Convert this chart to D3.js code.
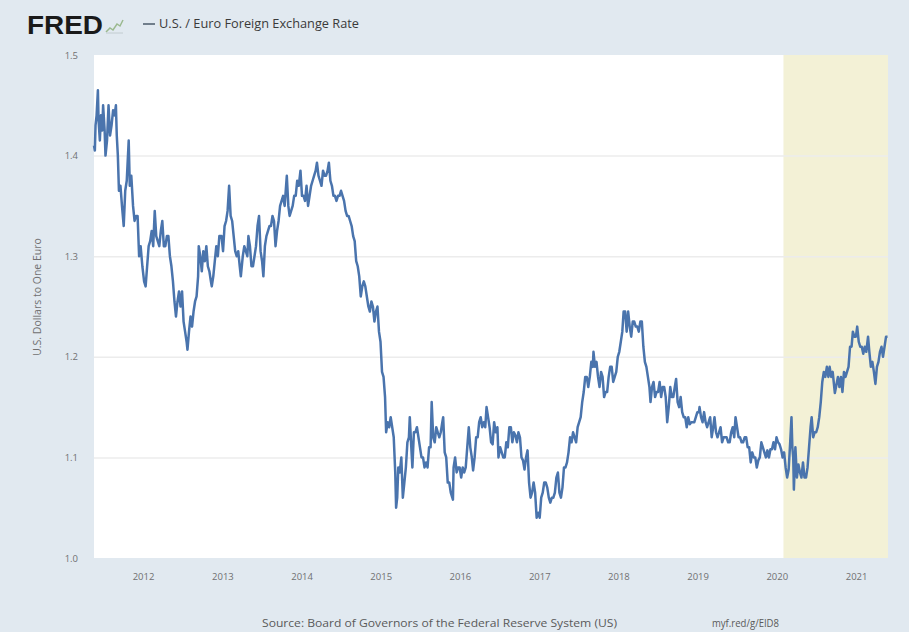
<!DOCTYPE html>
<html><head><meta charset="utf-8">
<script src="https://cdn.jsdelivr.net/npm/d3@7"></script>
<style>body{margin:0;background:#e1e9f0;}svg{display:block}</style>
</head><body><svg id="c" width="909" height="632"></svg>
<script>
const seriesTitle = "U.S. / Euro Foreign Exchange Rate";
const yTitle = "U.S. Dollars to One Euro";
const sourceText = "Source: Board of Governors of the Federal Reserve System (US)";
const linkText = "myf.red/g/EID8";
const yTicks = [1.0, 1.1, 1.2, 1.3, 1.4, 1.5];
const xTickYears = [2012, 2013, 2014, 2015, 2016, 2017, 2018, 2019, 2020, 2021];
const dateRange = ["2011-05-20", "2021-05-28"];
const recession = ["2020-02-01", "2021-05-28"];

const rates2011 = [["2011-05-20",1.410],["2011-05-24",1.405],["2011-05-27",1.430],["2011-06-01",1.440],["2011-06-07",1.465],["2011-06-10",1.435],["2011-06-16",1.415],["2011-06-21",1.440],["2011-06-27",1.425],["2011-07-01",1.450],["2011-07-08",1.425],["2011-07-12",1.400],["2011-07-19",1.415],["2011-07-26",1.450],["2011-08-02",1.420],["2011-08-09",1.430],["2011-08-16",1.445],["2011-08-23",1.440],["2011-08-29",1.450],["2011-09-02",1.420],["2011-09-07",1.400],["2011-09-12",1.365],["2011-09-19",1.370],["2011-09-26",1.350],["2011-10-04",1.330],["2011-10-11",1.365],["2011-10-18",1.375],["2011-10-27",1.415],["2011-11-01",1.370],["2011-11-08",1.380],["2011-11-16",1.350],["2011-11-23",1.335],["2011-11-30",1.340],["2011-12-07",1.340],["2011-12-14",1.300],["2011-12-21",1.310],["2011-12-29",1.290]];
const rates2012 = [["2012-01-06",1.275],["2012-01-13",1.270],["2012-01-20",1.290],["2012-01-27",1.310],["2012-02-03",1.315],["2012-02-10",1.325],["2012-02-17",1.310],["2012-02-24",1.345],["2012-03-02",1.320],["2012-03-09",1.315],["2012-03-16",1.310],["2012-03-23",1.325],["2012-03-30",1.335],["2012-04-06",1.310],["2012-04-13",1.310],["2012-04-20",1.320],["2012-04-27",1.320],["2012-05-04",1.300],["2012-05-11",1.290],["2012-05-18",1.275],["2012-05-25",1.255],["2012-06-01",1.240],["2012-06-08",1.255],["2012-06-15",1.265],["2012-06-22",1.250],["2012-06-29",1.265],["2012-07-06",1.235],["2012-07-13",1.225],["2012-07-20",1.215],["2012-07-24",1.207],["2012-07-31",1.225],["2012-08-07",1.240],["2012-08-14",1.230],["2012-08-21",1.245],["2012-08-28",1.255],["2012-09-04",1.260],["2012-09-11",1.280],["2012-09-14",1.310],["2012-09-21",1.300],["2012-09-28",1.285],["2012-10-05",1.305],["2012-10-12",1.295],["2012-10-19",1.310],["2012-10-26",1.290],["2012-11-02",1.285],["2012-11-09",1.275],["2012-11-13",1.270],["2012-11-20",1.280],["2012-11-27",1.295],["2012-12-04",1.310],["2012-12-11",1.300],["2012-12-18",1.320],["2012-12-28",1.320]];
const rates2013 = [["2013-01-04",1.305],["2013-01-11",1.330],["2013-01-18",1.335],["2013-01-25",1.345],["2013-02-01",1.370],["2013-02-08",1.340],["2013-02-15",1.335],["2013-02-22",1.320],["2013-03-01",1.305],["2013-03-08",1.300],["2013-03-15",1.305],["2013-03-22",1.290],["2013-03-27",1.280],["2013-04-05",1.300],["2013-04-12",1.310],["2013-04-19",1.305],["2013-04-26",1.300],["2013-05-01",1.320],["2013-05-08",1.310],["2013-05-15",1.290],["2013-05-22",1.290],["2013-05-29",1.300],["2013-06-05",1.310],["2013-06-12",1.330],["2013-06-19",1.340],["2013-06-26",1.305],["2013-07-03",1.295],["2013-07-09",1.280],["2013-07-16",1.310],["2013-07-23",1.320],["2013-07-30",1.325],["2013-08-06",1.330],["2013-08-13",1.330],["2013-08-20",1.340],["2013-08-27",1.335],["2013-09-03",1.310],["2013-09-10",1.325],["2013-09-17",1.335],["2013-09-24",1.350],["2013-10-01",1.355],["2013-10-08",1.360],["2013-10-15",1.350],["2013-10-25",1.380],["2013-11-01",1.350],["2013-11-07",1.340],["2013-11-14",1.345],["2013-11-21",1.350],["2013-11-28",1.360],["2013-12-05",1.360],["2013-12-12",1.375],["2013-12-19",1.370],["2013-12-27",1.385]];
const rates2014 = [["2014-01-03",1.360],["2014-01-10",1.360],["2014-01-17",1.355],["2014-01-24",1.370],["2014-01-31",1.350],["2014-02-07",1.360],["2014-02-14",1.370],["2014-02-21",1.375],["2014-02-28",1.380],["2014-03-07",1.385],["2014-03-13",1.393],["2014-03-20",1.380],["2014-03-27",1.375],["2014-04-03",1.370],["2014-04-10",1.385],["2014-04-17",1.380],["2014-04-24",1.380],["2014-05-01",1.385],["2014-05-07",1.393],["2014-05-14",1.375],["2014-05-21",1.370],["2014-05-28",1.360],["2014-06-04",1.360],["2014-06-11",1.355],["2014-06-18",1.360],["2014-06-25",1.360],["2014-07-02",1.365],["2014-07-09",1.360],["2014-07-16",1.355],["2014-07-23",1.345],["2014-07-30",1.340],["2014-08-06",1.340],["2014-08-13",1.335],["2014-08-20",1.330],["2014-08-27",1.320],["2014-09-03",1.315],["2014-09-10",1.295],["2014-09-17",1.290],["2014-09-24",1.280],["2014-10-01",1.260],["2014-10-08",1.270],["2014-10-15",1.275],["2014-10-22",1.270],["2014-10-29",1.260],["2014-11-05",1.250],["2014-11-12",1.245],["2014-11-19",1.255],["2014-11-26",1.250],["2014-12-03",1.235],["2014-12-10",1.245],["2014-12-17",1.250],["2014-12-24",1.225],["2014-12-31",1.215]];
const rates2015 = [["2015-01-07",1.185],["2015-01-14",1.180],["2015-01-21",1.160],["2015-01-26",1.125],["2015-02-02",1.135],["2015-02-09",1.130],["2015-02-16",1.140],["2015-02-23",1.130],["2015-03-02",1.120],["2015-03-09",1.085],["2015-03-13",1.050],["2015-03-18",1.060],["2015-03-23",1.090],["2015-03-30",1.085],["2015-04-06",1.100],["2015-04-13",1.060],["2015-04-20",1.075],["2015-04-27",1.090],["2015-05-04",1.115],["2015-05-11",1.120],["2015-05-15",1.140],["2015-05-22",1.110],["2015-05-27",1.090],["2015-06-03",1.125],["2015-06-10",1.125],["2015-06-17",1.130],["2015-06-24",1.120],["2015-07-01",1.110],["2015-07-08",1.100],["2015-07-15",1.100],["2015-07-22",1.090],["2015-07-29",1.095],["2015-08-05",1.090],["2015-08-12",1.110],["2015-08-19",1.110],["2015-08-24",1.155],["2015-08-31",1.120],["2015-09-07",1.115],["2015-09-14",1.130],["2015-09-21",1.125],["2015-09-28",1.120],["2015-10-05",1.125],["2015-10-12",1.135],["2015-10-16",1.140],["2015-10-23",1.105],["2015-10-30",1.100],["2015-11-06",1.075],["2015-11-13",1.075],["2015-11-20",1.065],["2015-11-30",1.058],["2015-12-03",1.090],["2015-12-10",1.100],["2015-12-17",1.085],["2015-12-24",1.090],["2015-12-31",1.090]];
const rates2016 = [["2016-01-07",1.080],["2016-01-14",1.090],["2016-01-21",1.085],["2016-01-28",1.090],["2016-02-04",1.110],["2016-02-11",1.130],["2016-02-18",1.110],["2016-02-25",1.100],["2016-03-02",1.087],["2016-03-09",1.100],["2016-03-16",1.120],["2016-03-23",1.120],["2016-03-30",1.135],["2016-04-06",1.140],["2016-04-13",1.130],["2016-04-20",1.135],["2016-04-27",1.130],["2016-05-03",1.150],["2016-05-10",1.140],["2016-05-17",1.130],["2016-05-24",1.115],["2016-05-31",1.113],["2016-06-07",1.135],["2016-06-14",1.125],["2016-06-22",1.130],["2016-06-27",1.100],["2016-07-05",1.110],["2016-07-12",1.105],["2016-07-19",1.100],["2016-07-26",1.100],["2016-08-02",1.115],["2016-08-09",1.110],["2016-08-16",1.130],["2016-08-23",1.130],["2016-08-30",1.115],["2016-09-06",1.125],["2016-09-13",1.122],["2016-09-20",1.115],["2016-09-27",1.125],["2016-10-04",1.120],["2016-10-11",1.100],["2016-10-18",1.097],["2016-10-25",1.088],["2016-11-01",1.100],["2016-11-08",1.107],["2016-11-15",1.075],["2016-11-22",1.060],["2016-11-29",1.065],["2016-12-06",1.075],["2016-12-13",1.065],["2016-12-20",1.040],["2016-12-27",1.045]];
const rates2017 = [["2017-01-03",1.040],["2017-01-10",1.060],["2017-01-17",1.065],["2017-01-24",1.075],["2017-01-31",1.075],["2017-02-07",1.070],["2017-02-14",1.060],["2017-02-21",1.055],["2017-02-28",1.060],["2017-03-07",1.060],["2017-03-14",1.065],["2017-03-21",1.080],["2017-03-28",1.085],["2017-04-04",1.065],["2017-04-11",1.060],["2017-04-18",1.070],["2017-04-25",1.090],["2017-05-02",1.090],["2017-05-09",1.095],["2017-05-16",1.105],["2017-05-23",1.120],["2017-05-30",1.115],["2017-06-06",1.125],["2017-06-13",1.120],["2017-06-20",1.115],["2017-06-27",1.130],["2017-07-04",1.135],["2017-07-11",1.140],["2017-07-18",1.155],["2017-07-25",1.165],["2017-08-01",1.180],["2017-08-08",1.180],["2017-08-15",1.170],["2017-08-22",1.180],["2017-08-29",1.195],["2017-09-05",1.190],["2017-09-08",1.205],["2017-09-15",1.190],["2017-09-22",1.195],["2017-09-29",1.180],["2017-10-06",1.170],["2017-10-13",1.185],["2017-10-20",1.180],["2017-10-27",1.160],["2017-11-03",1.165],["2017-11-10",1.165],["2017-11-17",1.180],["2017-11-24",1.190],["2017-12-01",1.190],["2017-12-08",1.175],["2017-12-15",1.180],["2017-12-22",1.185],["2017-12-29",1.200]];
const rates2018 = [["2018-01-05",1.205],["2018-01-12",1.215],["2018-01-19",1.225],["2018-01-25",1.245],["2018-02-01",1.245],["2018-02-08",1.225],["2018-02-15",1.245],["2018-02-22",1.230],["2018-03-01",1.220],["2018-03-08",1.235],["2018-03-15",1.235],["2018-03-22",1.230],["2018-03-29",1.230],["2018-04-05",1.225],["2018-04-12",1.235],["2018-04-19",1.235],["2018-04-26",1.210],["2018-05-03",1.195],["2018-05-10",1.190],["2018-05-17",1.180],["2018-05-24",1.170],["2018-05-29",1.155],["2018-06-05",1.170],["2018-06-12",1.175],["2018-06-19",1.160],["2018-06-26",1.165],["2018-07-03",1.165],["2018-07-10",1.175],["2018-07-17",1.160],["2018-07-24",1.170],["2018-07-31",1.170],["2018-08-07",1.160],["2018-08-14",1.135],["2018-08-21",1.150],["2018-08-28",1.170],["2018-09-04",1.160],["2018-09-11",1.160],["2018-09-18",1.170],["2018-09-24",1.178],["2018-10-01",1.155],["2018-10-08",1.150],["2018-10-15",1.160],["2018-10-22",1.145],["2018-10-29",1.140],["2018-11-05",1.140],["2018-11-12",1.130],["2018-11-19",1.140],["2018-11-26",1.133],["2018-12-03",1.135],["2018-12-10",1.135],["2018-12-17",1.135],["2018-12-24",1.140],["2018-12-31",1.145]];
const rates2019 = [["2019-01-07",1.145],["2019-01-10",1.150],["2019-01-17",1.140],["2019-01-24",1.135],["2019-01-31",1.145],["2019-02-07",1.135],["2019-02-14",1.130],["2019-02-21",1.135],["2019-02-28",1.140],["2019-03-07",1.120],["2019-03-14",1.130],["2019-03-20",1.140],["2019-03-27",1.125],["2019-04-03",1.120],["2019-04-10",1.125],["2019-04-17",1.130],["2019-04-24",1.115],["2019-05-01",1.120],["2019-05-08",1.120],["2019-05-15",1.120],["2019-05-22",1.115],["2019-05-29",1.115],["2019-06-05",1.125],["2019-06-12",1.130],["2019-06-19",1.120],["2019-06-25",1.140],["2019-07-02",1.130],["2019-07-09",1.120],["2019-07-16",1.120],["2019-07-23",1.115],["2019-07-30",1.115],["2019-08-06",1.120],["2019-08-13",1.120],["2019-08-20",1.110],["2019-08-27",1.110],["2019-09-03",1.095],["2019-09-10",1.105],["2019-09-17",1.100],["2019-09-24",1.100],["2019-10-01",1.090],["2019-10-08",1.097],["2019-10-15",1.100],["2019-10-22",1.115],["2019-10-29",1.110],["2019-11-05",1.105],["2019-11-12",1.100],["2019-11-19",1.107],["2019-11-26",1.100],["2019-12-03",1.108],["2019-12-10",1.108],["2019-12-17",1.115],["2019-12-24",1.108],["2019-12-31",1.120]];
const rates2020 = [["2020-01-07",1.115],["2020-01-14",1.113],["2020-01-21",1.108],["2020-01-28",1.100],["2020-02-04",1.105],["2020-02-11",1.090],["2020-02-18",1.080],["2020-02-25",1.088],["2020-03-03",1.115],["2020-03-09",1.140],["2020-03-13",1.110],["2020-03-17",1.100],["2020-03-20",1.068],["2020-03-27",1.110],["2020-04-03",1.080],["2020-04-10",1.093],["2020-04-17",1.085],["2020-04-24",1.080],["2020-05-01",1.095],["2020-05-08",1.080],["2020-05-15",1.080],["2020-05-22",1.090],["2020-05-29",1.110],["2020-06-05",1.130],["2020-06-10",1.140],["2020-06-17",1.120],["2020-06-24",1.125],["2020-07-01",1.125],["2020-07-08",1.130],["2020-07-15",1.140],["2020-07-22",1.155],["2020-07-29",1.175],["2020-08-05",1.185],["2020-08-12",1.180],["2020-08-19",1.190],["2020-08-26",1.180],["2020-09-01",1.190],["2020-09-08",1.180],["2020-09-15",1.185],["2020-09-22",1.170],["2020-09-25",1.164],["2020-10-02",1.172],["2020-10-09",1.180],["2020-10-16",1.170],["2020-10-23",1.180],["2020-10-30",1.165],["2020-11-06",1.185],["2020-11-13",1.180],["2020-11-20",1.185],["2020-11-27",1.190],["2020-12-04",1.210],["2020-12-11",1.210],["2020-12-17",1.225],["2020-12-24",1.220],["2020-12-31",1.220]];
const rates2021 = [["2021-01-06",1.230],["2021-01-13",1.215],["2021-01-20",1.210],["2021-01-27",1.210],["2021-02-03",1.203],["2021-02-10",1.210],["2021-02-17",1.205],["2021-02-25",1.220],["2021-03-03",1.205],["2021-03-10",1.190],["2021-03-17",1.195],["2021-03-24",1.185],["2021-03-31",1.173],["2021-04-07",1.190],["2021-04-14",1.195],["2021-04-21",1.205],["2021-04-28",1.210],["2021-05-05",1.200],["2021-05-12",1.210],["2021-05-19",1.220],["2021-05-26",1.220]];

const parse = d3.timeParse("%Y-%m-%d");
const data = [].concat(rates2011, rates2012, rates2013, rates2014, rates2015, rates2016, rates2017, rates2018, rates2019, rates2020, rates2021)
  .map(([d, v]) => ({date: parse(d), value: v}));

const svg = d3.select("#c");
const W = 909, H = 632;
const m = {left: 94, right: 888, top: 55, bottom: 558};
const font = "'Open Sans', sans-serif";

svg.append("rect").attr("width", W).attr("height", H).attr("fill", "#e1e9f0");

const x = d3.scaleTime().domain(dateRange.map(parse)).range([m.left, m.right]);
const y = d3.scaleLinear().domain([1.0, 1.5]).range([m.bottom, m.top]);

svg.append("rect").attr("x", m.left).attr("y", m.top)
  .attr("width", m.right - m.left).attr("height", m.bottom - m.top).attr("fill", "#ffffff");

svg.append("rect").attr("x", x(parse(recession[0]))).attr("y", m.top)
  .attr("width", x(parse(recession[1])) - x(parse(recession[0])))
  .attr("height", m.bottom - m.top).attr("fill", "#f3f1d6");

const yAxis = d3.axisLeft(y).tickValues(yTicks).tickFormat(d3.format(".1f"))
  .tickSize(-(m.right - m.left)).tickPadding(16);
const gy = svg.append("g").attr("transform", `translate(${m.left},0)`).call(yAxis);
gy.select(".domain").remove();
gy.selectAll(".tick line").attr("stroke", "#ececec").attr("stroke-width", 1.5)
  .attr("stroke-opacity", d => (d === 1.0 || d === 1.5) ? 0 : 1);
gy.selectAll(".tick text").attr("fill", "#707070").attr("font-size", 9.5).attr("font-family", font);

const xAxis = d3.axisBottom(x).tickValues(xTickYears.map(yv => new Date(yv, 0, 1)))
  .tickFormat(d3.timeFormat("%Y")).tickSize(0).tickPadding(15);
const gx = svg.append("g").attr("transform", `translate(0,${m.bottom})`).call(xAxis);
gx.select(".domain").remove();
gx.selectAll(".tick text").attr("fill", "#707070").attr("font-size", 9.5).attr("font-family", font);

const line = d3.line().x(d => x(d.date)).y(d => y(d.value));
svg.append("path").datum(data).attr("d", line).attr("fill", "none")
  .attr("stroke", "#4a74ad").attr("stroke-width", 2.5).attr("stroke-linejoin", "round");

svg.append("text").attr("transform", "translate(41,297) rotate(-90)")
  .attr("text-anchor", "middle").attr("font-size", 10.5).attr("fill", "#707070")
  .attr("font-family", font).text(yTitle);

svg.append("text").attr("x", 27).attr("y", 34).attr("font-size", 25).attr("font-weight", 900)
  .attr("font-family", "'Liberation Sans', Arial, sans-serif").attr("fill", "#1a1a1a")
  .attr("textLength", 76).attr("lengthAdjust", "spacingAndGlyphs").text("FRED");
const icon = svg.append("g").attr("transform", "translate(106,18)");
icon.append("path").attr("d", "M0,14 L4,10 L7,12 L11,6 L14,8 L17,2").attr("fill", "none")
  .attr("stroke", "#9bb98f").attr("stroke-width", 1.5);
icon.append("path").attr("d", "M0,15 L17,15").attr("stroke", "#c2ccd0").attr("stroke-width", 1);
svg.append("line").attr("x1", 143).attr("x2", 155).attr("y1", 24).attr("y2", 24)
  .attr("stroke", "#4a5a6a").attr("stroke-width", 1.5);
svg.append("text").attr("x", 159).attr("y", 28).attr("font-size", 12).attr("fill", "#3a3a3a")
  .attr("font-family", font).attr("textLength", 200).attr("lengthAdjust", "spacingAndGlyphs")
  .text(seriesTitle);

svg.append("text").attr("x", 262).attr("y", 627).attr("font-size", 11).attr("fill", "#5a5a5a")
  .attr("font-family", font).attr("textLength", 355).attr("lengthAdjust", "spacingAndGlyphs")
  .text(sourceText);
svg.append("text").attr("x", 712).attr("y", 627).attr("font-size", 11).attr("fill", "#5a5a5a")
  .attr("font-family", font).attr("textLength", 67).attr("lengthAdjust", "spacingAndGlyphs")
  .text(linkText);
</script></body></html>
